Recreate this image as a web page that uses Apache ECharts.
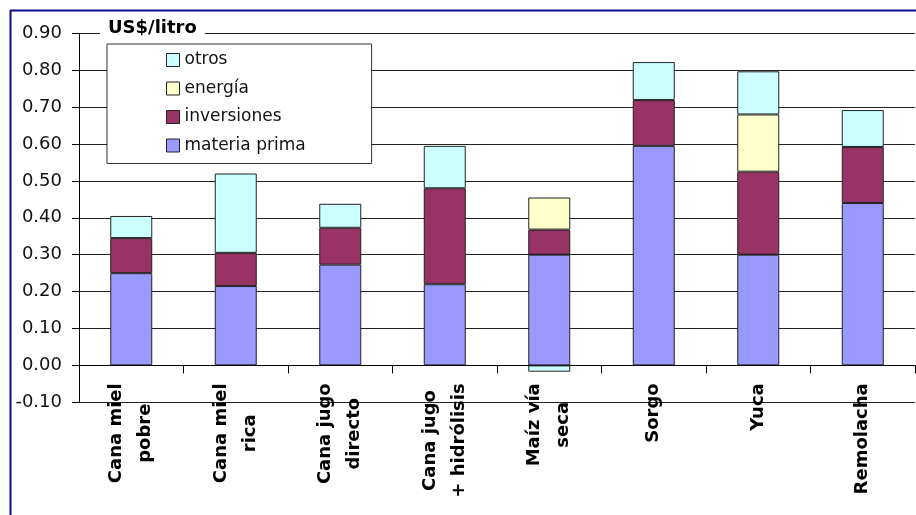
<!DOCTYPE html>
<html>
<head>
<meta charset="utf-8">
<script src="https://cdn.jsdelivr.net/npm/echarts@6/dist/echarts.min.js"></script>
<style>
  html, body { margin: 0; padding: 0; background: #fff; }
  #chart { width: 916px; height: 515px; }
</style>
</head>
<body>
<div id="chart"></div>
<script>
// Costos de producción de etanol por materia prima (US$/litro)
const categories = [
  'Cana miel\npobre',
  'Cana miel\nrica',
  'Cana jugo\ndirecto',
  'Cana jugo\n+ hidrólisis',
  'Maíz vía\nseca',
  'Sorgo',
  'Yuca',
  'Remolacha'
];
const materiaPrima = [0.25, 0.215, 0.273, 0.22, 0.30, 0.595, 0.30, 0.44];
const inversiones  = [0.095, 0.09, 0.10, 0.26, 0.068, 0.124, 0.225, 0.152];
const energia      = [null, null, null, null, 0.087, null, 0.155, null];
const otros        = [0.06, 0.215, 0.065, 0.115, -0.017, 0.103, 0.117, 0.10];

const yTicks = { min: -0.1, max: 0.9, step: 0.1 };
const unitTitle = 'US$/litro';

const FONT = 'DejaVu Sans';
const EDGE = '#222';

function stackSeries(name, data, color) {
  return {
    name: name,
    type: 'bar',
    stack: 'total',
    barWidth: 42,
    data: data,
    itemStyle: { color: color, borderColor: EDGE, borderWidth: 1 }
  };
}

const chart = echarts.init(document.getElementById('chart'), null, { renderer: 'canvas' });
chart.setOption({
  animation: false,
  backgroundColor: '#fff',
  title: {
    text: unitTitle,
    left: 100,
    top: 18,
    padding: [0, 8],
    backgroundColor: '#fff',
    textStyle: { fontFamily: FONT, fontWeight: 'bold', fontSize: 18, lineHeight: 20, color: '#000' }
  },
  legend: {
    orient: 'vertical',
    left: 107,
    top: 44,
    padding: [6, 66, 8, 59],
    itemGap: 8.5,
    itemWidth: 13,
    itemHeight: 13,
    icon: 'rect',
    backgroundColor: '#fff',
    borderColor: '#333',
    borderWidth: 1,
    borderRadius: 0,
    data: ['otros', 'energía', 'inversiones', 'materia prima'],
    itemStyle: { borderColor: EDGE, borderWidth: 1 },
    textStyle: { fontFamily: FONT, fontSize: 17, lineHeight: 20, color: '#111' }
  },
  grid: {
    left: 79, right: 1, top: 33.3, bottom: 112.7,
    containLabel: false,
    outerBoundsMode: 'none'
  },
  xAxis: {
    type: 'category',
    data: categories,
    axisLine: { onZero: true, lineStyle: { color: '#000', width: 1 } },
    axisTick: { show: true, length: 8, lineStyle: { color: '#000' } },
    axisLabel: {
      interval: 0,
      rotate: 90,
      // labels are laid out from the bottom edge of the grid; pull them up under the zero line
      margin: -19,
      formatter: function (v) {
        return v.split('\n').map(function (s) { return '{c|' + s + '}'; }).join('\n');
      },
      rich: {
        c: { align: 'center', fontFamily: FONT, fontWeight: 'bold', fontSize: 18, lineHeight: 29, color: '#000' }
      }
    }
  },
  yAxis: {
    type: 'value',
    min: yTicks.min,
    max: yTicks.max,
    interval: yTicks.step,
    axisLine: { show: true, lineStyle: { color: '#000', width: 1 } },
    axisTick: { show: true, length: 7, lineStyle: { color: '#000' } },
    splitLine: { show: true, lineStyle: { color: '#222', width: 1 } },
    axisLabel: {
      margin: 17,
      fontFamily: FONT,
      fontSize: 18,
      color: '#111',
      formatter: function (v) { return v.toFixed(2); }
    }
  },
  series: [
    stackSeries('materia prima', materiaPrima, '#9999FF'),
    stackSeries('inversiones', inversiones, '#993366'),
    stackSeries('energía', energia, '#FFFFCC'),
    stackSeries('otros', otros, '#CCFFFF')
  ],
  graphic: [
    { type: 'line', shape: { x1: 10, y1: 10.5, x2: 916, y2: 10.5 }, style: { stroke: '#0a0a8c', lineWidth: 2 }, z: 100 },
    { type: 'line', shape: { x1: 10.5, y1: 10, x2: 10.5, y2: 515 }, style: { stroke: '#0a0a8c', lineWidth: 2 }, z: 100 }
  ]
});
</script>
</body>
</html>
